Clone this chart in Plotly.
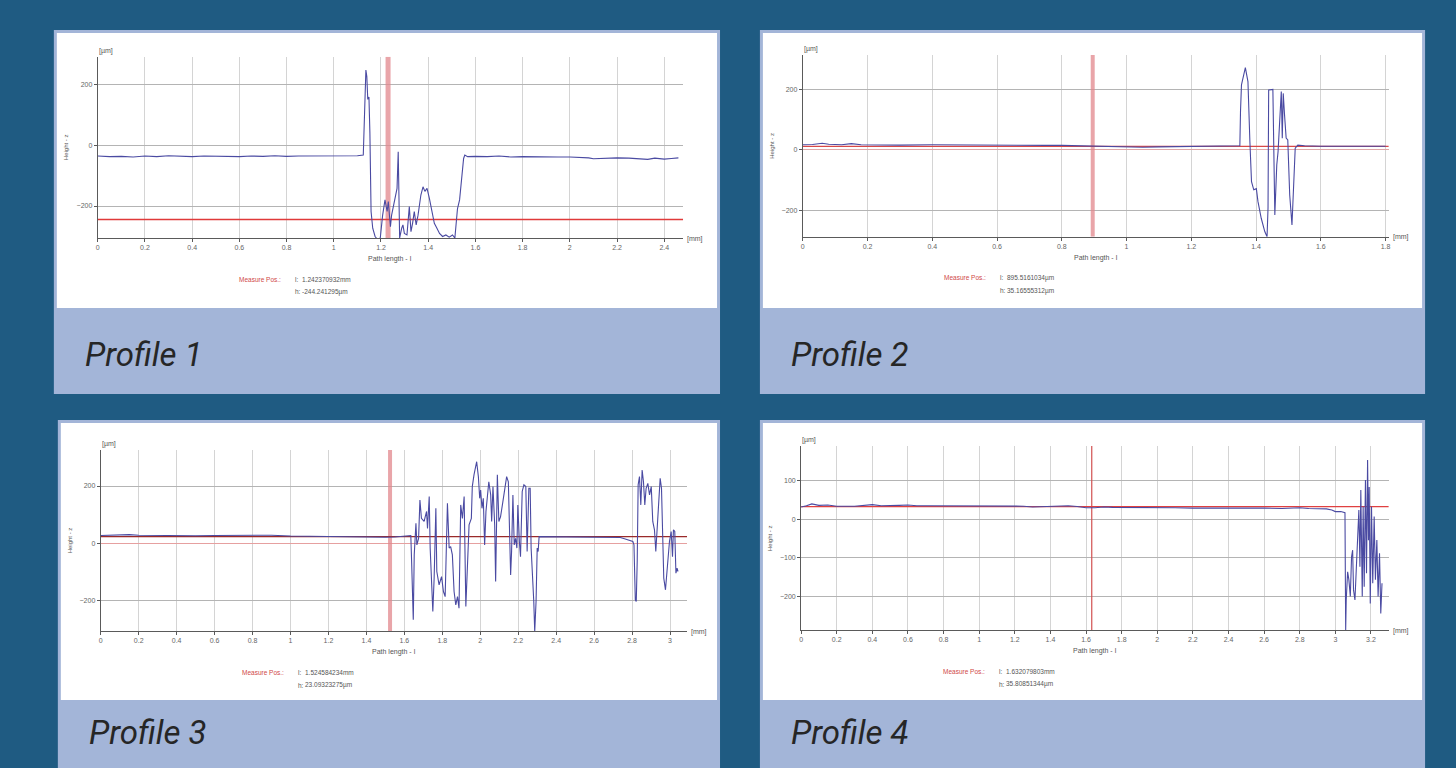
import plotly.graph_objects as go

W, H = 1456, 768

# ---------------- data ----------------
p1_x = [0, 0.05, 0.1, 0.15, 0.2, 0.25, 0.3, 0.35, 0.4, 0.45, 0.5, 0.55, 0.6, 0.65, 0.7, 0.75, 0.8, 0.85, 0.9, 0.95,
        1.0, 1.05, 1.1, 1.125, 1.13, 1.136, 1.14, 1.144, 1.149, 1.153, 1.158, 1.165, 1.175, 1.185, 1.197, 1.207, 1.217,
        1.226, 1.231, 1.24, 1.245, 1.257, 1.268, 1.273, 1.279, 1.288, 1.293, 1.299, 1.31, 1.32, 1.327, 1.334, 1.341,
        1.349, 1.357, 1.369, 1.378, 1.386, 1.395, 1.405, 1.415, 1.426, 1.437, 1.448, 1.461, 1.475, 1.489, 1.503, 1.513,
        1.524, 1.533, 1.541, 1.55, 1.555, 1.567, 1.6, 1.65, 1.7, 1.75, 1.8, 1.85, 1.9, 1.95, 2.0, 2.05, 2.08, 2.1, 2.15,
        2.2, 2.25, 2.3, 2.33, 2.36, 2.4, 2.43, 2.46]
p1_y = [-36, -38, -37, -39, -36, -38, -35, -37, -38, -36, -37, -36, -38, -36, -37, -35, -37, -36, -36, -37,
        -35, -37, -35, -33, 120, 246, 225, 150, 158, 40, -218, -273, -300, -310, -305, -230, -180,
        -218, -185, -268, -230, -185, -142, -22, -305, -272, -262, -290, -295, -202, -284, -256, -218,
        -262, -230, -164, -137, -152, -142, -175, -218, -257, -273, -290, -300, -295, -302, -295, -305,
        -209, -180, -120, -44, -33, -38, -37, -38, -36, -39, -38, -39, -38, -39, -39, -40, -42, -45, -43,
        -42, -43, -44, -47, -43, -46, -44, -42]

p2_x = [0, 0.03, 0.06, 0.08, 0.12, 0.15, 0.18, 0.25, 0.3, 0.4, 0.5, 0.55, 0.6, 0.65, 0.7, 0.75, 0.8, 0.85, 0.88,
        0.9, 0.95, 1.0, 1.05, 1.1, 1.15, 1.2, 1.25, 1.28, 1.3, 1.32, 1.34, 1.35, 1.352, 1.355, 1.367, 1.375, 1.381,
        1.386, 1.393, 1.401, 1.406, 1.416, 1.427, 1.434, 1.437, 1.439, 1.452, 1.455, 1.458, 1.464, 1.468, 1.473,
        1.478, 1.481, 1.484, 1.488, 1.493, 1.498, 1.504, 1.511, 1.517, 1.521, 1.529, 1.55, 1.6, 1.65, 1.7, 1.75, 1.8]
p2_y = [17, 18, 22, 19, 17, 21, 17, 16, 16, 17, 16, 15, 16, 14, 15, 15, 15, 14, 11,
        12, 11, 10, 9, 10, 11, 10, 11, 13, 12, 13, 14, 14, 127, 215, 272, 226, 27,
        -105, -132, -128, -171, -226, -270, -287, -192, 198, 200, -17, -215, -50, -6, 94,
        193, 39, 187, 116, 39, 33, -149, -248, -83, 6, 16, 14, 12, 13, 12, 12, 12]

p3_x = [0, 0.05, 0.1, 0.15, 0.2, 0.3, 0.4, 0.5, 0.6, 0.7, 0.8, 0.9, 1.0, 1.1, 1.2, 1.3, 1.4, 1.45, 1.5, 1.55, 1.6,
        1.634, 1.638, 1.647, 1.652, 1.661, 1.666, 1.675, 1.682, 1.69, 1.704, 1.717, 1.722, 1.731, 1.736, 1.743, 1.75,
        1.757, 1.766, 1.771, 1.783, 1.796, 1.806, 1.815, 1.827, 1.836, 1.844, 1.853, 1.862, 1.871, 1.88, 1.888, 1.897,
        1.906, 1.915, 1.924, 1.932, 1.941, 1.953, 1.958, 1.967, 1.981, 1.99, 1.997, 2.002, 2.009, 2.016, 2.023, 2.03,
        2.037, 2.045, 2.055, 2.06, 2.067, 2.076, 2.081, 2.09, 2.098, 2.107, 2.118, 2.128, 2.139, 2.148, 2.153, 2.16,
        2.165, 2.172, 2.179, 2.186, 2.193, 2.198, 2.206, 2.212, 2.221, 2.23, 2.24, 2.247, 2.256, 2.263, 2.268, 2.275,
        2.282, 2.287, 2.294, 2.3, 2.305, 2.31, 2.4, 2.5, 2.6, 2.7, 2.738, 2.764, 2.79, 2.804, 2.81, 2.817, 2.822,
        2.827, 2.832, 2.839, 2.846, 2.853, 2.86, 2.867, 2.874, 2.883, 2.892, 2.901, 2.909, 2.918, 2.925, 2.934, 2.941,
        2.948, 2.955, 2.96, 2.967, 2.976, 2.983, 2.99, 2.997, 3.006, 3.013, 3.018, 3.025, 3.031, 3.037, 3.042]
p3_y = [27, 28, 29, 30, 28, 27, 28, 26, 27, 27, 26, 28, 25, 24, 23, 21, 20, 20, 21, 22, 25,
        27, -58, -268, -41, 70, -6, 17, 151, 87, 76, 111, 52, 163, -17, -146, -239,
        -122, 122, -99, -146, -117, -169, -187, 140, -17, -12, -41, -169, -216, -187, -227, 134,
        87, 163, -221, -76, 64, 87, 198, 239, 285, 233, 157, 186, 122, 157, -6, 111,
        157, 215, 169, 76, 198, 64, -134, 239, 76, 93, 140, 192, 233, 215, 64, -111,
        -29, 169, -6, 17, -17, 134, 6, -47, 181, 204, 198, -29, 192, 192, -17, -99,
        -204, -309, -204, -17, -29, 23, 22, 21, 21, 20, 20, 15, 8, 6, -6, -198, -204,
        -64, 204, 233, 134, 256, 215, 134, 192, 209, 169, 198, 76, 47, -29, 64, 140,
        227, 192, 41, -122, -163, -99, -41, 6, 41, -47, 47, 41, -105, -87, -99]

p4_x = [0, 0.03, 0.06, 0.1, 0.15, 0.2, 0.3, 0.38, 0.4, 0.45, 0.5, 0.55, 0.6, 0.65, 0.7, 0.8, 0.9, 1.0, 1.1, 1.2,
        1.25, 1.3, 1.35, 1.4, 1.45, 1.5, 1.55, 1.6, 1.65, 1.7, 1.75, 1.8, 1.9, 2.0, 2.1, 2.2, 2.3, 2.4, 2.5, 2.6,
        2.7, 2.8, 2.85, 2.9, 2.95, 2.98, 3.0, 3.031, 3.054, 3.058, 3.061, 3.069, 3.076, 3.084, 3.091, 3.097, 3.102,
        3.11, 3.117, 3.125, 3.132, 3.138, 3.143, 3.151, 3.156, 3.162, 3.169, 3.175, 3.181, 3.186, 3.19, 3.196,
        3.203, 3.21, 3.218, 3.225, 3.233, 3.24, 3.248, 3.255, 3.262]
p4_y = [32, 35, 40, 36, 37, 34, 34, 37, 38, 35, 35, 36, 37, 35, 35, 35, 34, 35, 35, 35,
        34, 32, 33, 33, 34, 35, 33, 30, 30, 32, 31, 31, 31, 30, 30, 29, 29, 30, 30, 29,
        28, 30, 28, 27, 27, 24, 20, 20, 17, -287, -209, -136, -157, -200, -97, -80, -183,
        -209, -123, -19, 24, -123, 76, -200, 33, -175, 102, -140, 154, -54, 84, -218,
        33, -166, 7, -157, -54, -200, -88, -244, -166]

profiles_x = [p1_x, p2_x, p3_x, p4_x]
profiles_y = [p1_y, p2_y, p3_y, p4_y]

cursor_l = [1.23, 0.8955, 1.5246, 1.6321]      # mm (cursor position as drawn)
cursor_h = [-244.24, 12.0, 23.09, 33.0]        # µm

x_max = [2.48, 1.81, 3.09, 3.30]
y_min = [-305, -287, -307, -287]
y_max = [290, 314, 326, 190]
y_step = [200, 200, 200, 100]

titles = ["Profile 1", "Profile 2", "Profile 3", "Profile 4"]
measure_l = ["1.242370932mm", "895.5161034µm", "1.524584234mm", "1.632079803mm"]
measure_h = ["-244.241295µm", "35.16555312µm", "23.09323275µm", "35.80851344µm"]

# ---------------- layout geometry (pixels) ----------------
plot_box = [  # x0, x1, ytop, ybot
    (96, 683, 56.7, 238),
    (803, 1390.6, 55, 236.7),
    (99, 687, 450, 631),
    (801.3, 1390.6, 446, 630),
]
cards = [  # outer x0, y0, x1, y1, white bottom
    (52, 30, 720, 394, 308),
    (760, 30, 1427, 394, 308),
    (56, 420, 720, 768, 700),
    (760, 420, 1427, 768, 700),
]
zero_colors = ["#b4b4b4", "#e0a8a8", "#e6a0a0", "#b4b4b4"]
band_widths = [5, 4, 4, 1.2]
band_colors = ["rgba(225,135,140,0.75)", "rgba(225,135,140,0.75)", "rgba(225,135,140,0.75)", "#d25050"]
hline_colors = ["#e03a3a", "#d84848", "#9a2a2a", "#e04040"]

BG = "#1f5b82"
STRIP = "#a3b5d8"


def fx(px):
    return px / W


def fy(py):
    return 1 - py / H


fig = go.Figure()
shapes = []
annotations = []
TXT = "Liberation Sans, Arial, sans-serif"


def ann(text, px, py, size=7, color="#555", xanchor="left", angle=0, family=TXT, style="normal"):
    annotations.append(dict(text=text, x=fx(px), y=fy(py), xref="paper", yref="paper", showarrow=False,
                            xanchor=xanchor, yanchor="middle", textangle=angle,
                            font=dict(size=size, color=color, family=family, style=style)))


for i in range(4):
    x0, y0, x1, y1, wb = cards[i]
    shapes.append(dict(type="rect", xref="paper", yref="paper", x0=fx(x0), x1=fx(x1), y0=fy(y1), y1=fy(y0),
                       fillcolor=STRIP, line=dict(width=0), layer="below"))
    shapes.append(dict(type="rect", xref="paper", yref="paper", x0=fx(x0 + 3), x1=fx(x1 - 3), y0=fy(wb), y1=fy(y0 + 3),
                       fillcolor="white", line=dict(width=0), layer="below"))

    sfx = "" if i == 0 else str(i + 1)
    xa, ya = "x" + sfx, "y" + sfx
    bx0, bx1, bt, bb = plot_box[i]

    # cursor lines (drawn first so the profile lies on top)
    fig.add_trace(go.Scatter(x=[cursor_l[i], cursor_l[i]], y=[y_min[i], y_max[i]], mode="lines",
                             line=dict(color=band_colors[i], width=band_widths[i]),
                             xaxis=xa, yaxis=ya, hoverinfo="skip", showlegend=False))
    fig.add_trace(go.Scatter(x=[0, x_max[i]], y=[cursor_h[i], cursor_h[i]], mode="lines",
                             line=dict(color=hline_colors[i], width=1.3),
                             xaxis=xa, yaxis=ya, hoverinfo="skip", showlegend=False))
    fig.add_trace(go.Scatter(x=profiles_x[i], y=profiles_y[i], mode="lines",
                             line=dict(color="#4a4aa2", width=1.1),
                             xaxis=xa, yaxis=ya, hoverinfo="skip", showlegend=False))

    xaxis = dict(domain=[fx(bx0), fx(bx1)], range=[0, x_max[i]], anchor=ya, dtick=0.2, tick0=0,
                 showline=True, linecolor="#5a5a5a", linewidth=1, ticks="outside", ticklen=3, tickcolor="#5a5a5a",
                 tickfont=dict(size=7, color="#666", family=TXT), showgrid=True, gridcolor="#d4d4d4",
                 gridwidth=1, zeroline=False, fixedrange=True)
    yaxis = dict(domain=[fy(bb), fy(bt)], range=[y_min[i], y_max[i]], anchor=xa, dtick=y_step[i], tick0=0,
                 showline=True, linecolor="#5a5a5a", linewidth=1, ticks="outside", ticklen=3, tickcolor="#5a5a5a",
                 tickfont=dict(size=7, color="#666", family=TXT), showgrid=True, gridcolor="#b4b4b4",
                 gridwidth=1, zeroline=True, zerolinecolor=zero_colors[i], zerolinewidth=1, fixedrange=True)
    fig.layout["xaxis" + sfx] = xaxis
    fig.layout["yaxis" + sfx] = yaxis

    ann("[µm]", bx0 - 1, bt - 6, size=7)
    ann("[mm]", bx1 + 2, bb + 0.5, size=7)
    ann("Path length - l", (bx0 + bx1) / 2, bb + 21, size=7, xanchor="center")
    ann("Height - z", bx0 - 31, (bt + bb) / 2, size=6, xanchor="center", angle=-90)
    ann("Measure Pos.:", bx0 + 186, bb + 41, size=6.5, color="#d04848", xanchor="right")
    ann("l:", bx0 + 196, bb + 41, size=6.5)
    ann(measure_l[i], bx0 + 203, bb + 41, size=6.5)
    ann("h:", bx0 + 196, bb + 54, size=6.5)
    ann(measure_h[i], bx0 + 203, bb + 54, size=6.5)

    # strip label
    strip_mid = (wb + y1) / 2 + (4 if i < 2 else -2)
    ann(titles[i], x0 + 29, strip_mid, size=33, color="#262626",
        family="Liberation Sans Narrow, Roboto, Liberation Sans, sans-serif", style="italic")

fig.update_layout(width=W, height=H, margin=dict(l=0, r=0, t=0, b=0), paper_bgcolor=BG,
                  plot_bgcolor="rgba(0,0,0,0)", shapes=shapes, annotations=annotations, showlegend=False)

fig.write_html("out.html", config={"displayModeBar": False},
               post_script="document.body.style.margin='0';document.body.style.overflow='hidden';")
